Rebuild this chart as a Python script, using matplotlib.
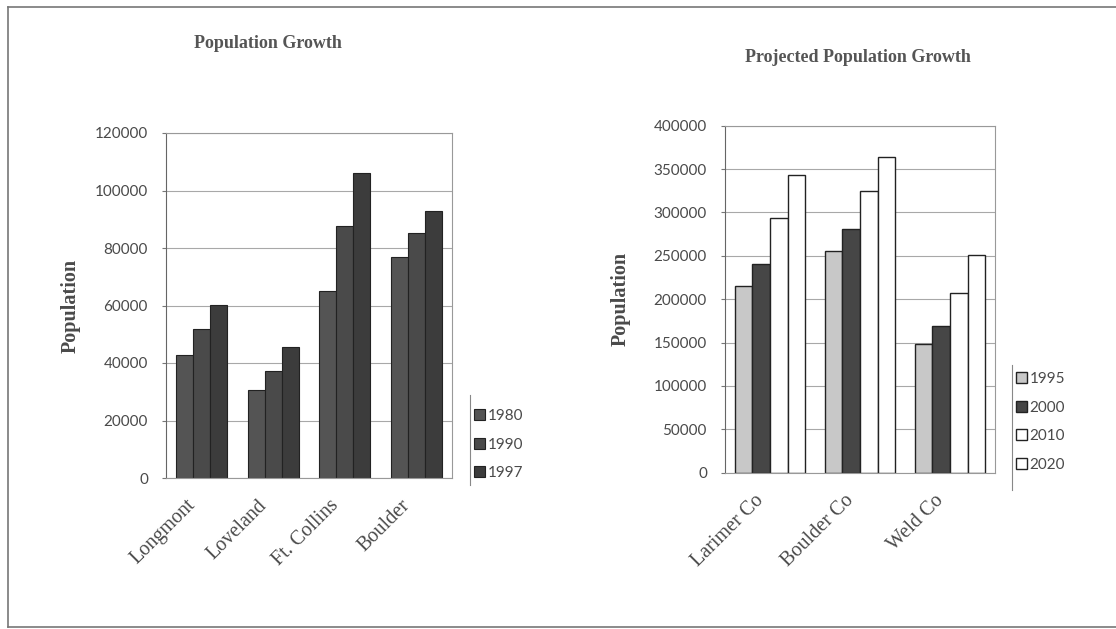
import numpy as np
import matplotlib
matplotlib.use("Agg")
import matplotlib.pyplot as plt
import matplotlib.transforms as mtransforms
from matplotlib.lines import Line2D

# city populations
cities = ["Longmont", "Loveland", "Ft. Collins", "Boulder"]
city_years = ["1980", "1990", "1997"]
pop_1980 = [42800, 30500, 64900, 77000]
pop_1990 = [51800, 37300, 87800, 85100]
pop_1997 = [60200, 45700, 106200, 92900]

# county projections
counties = ["Larimer Co", "Boulder Co", "Weld Co"]
county_years = ["1995", "2000", "2010", "2020"]
proj_1995 = [215600, 255200, 148000]
proj_2000 = [240900, 280900, 168800]
proj_2010 = [294000, 324700, 207500]
proj_2020 = [343200, 363600, 251300]

serif = "Liberation Serif"
sans = "Lato"
txt = "#4a4a4a"

W, H = 1116, 629
fig = plt.figure(figsize=(W / 100, H / 100), dpi=100)


def fx(px):
    return px / W


def fy(py):
    return 1 - py / H


# outer frame: left, top and bottom edges
for xs, ys in [([8, 8], [7, 627]), ([8, W], [7, 7]), ([8, W], [627, 627])]:
    fig.add_artist(Line2D([fx(v) for v in xs], [fy(v) for v in ys],
                          color="#777777", lw=1.2))


def style_axes(ax, ymax, step):
    ax.set_ylim(0, ymax)
    ax.set_yticks(np.arange(0, ymax + 1, step))
    ax.yaxis.grid(True, color="#a8a8a8", lw=0.8)
    ax.set_axisbelow(True)
    for s in ax.spines.values():
        s.set_color("#999999")
        s.set_linewidth(0.8)
    ax.spines["left"].set_color("#666666")
    ax.tick_params(axis="y", length=3, color="#777777", labelsize=11,
                   labelcolor=txt, pad=10)
    for lab in ax.get_yticklabels():
        lab.set_fontfamily(sans)
    ax.set_ylabel("Population", fontfamily=serif, fontweight="bold",
                  fontsize=14.5, color=txt)


def rotated_labels(ax, labels):
    ax.set_xticklabels(labels, rotation=45, ha="right", va="top",
                       rotation_mode="anchor", fontfamily=serif, fontsize=14.5,
                       color=txt)
    ax.tick_params(axis="x", length=0, pad=13)
    shift = mtransforms.ScaledTranslation(-16 / 100, 0, fig.dpi_scale_trans)
    for lab in ax.get_xticklabels():
        lab.set_transform(lab.get_transform() + shift)


# ---- left chart ----
ax1 = fig.add_axes([fx(166), fy(478), 286 / W, 345 / H])
x = np.arange(len(cities))
w = 0.24
colors1 = ["#545454", "#4a4a4a", "#3c3c3c"]
bars1 = []
for i, vals in enumerate([pop_1980, pop_1990, pop_1997]):
    b = ax1.bar(x + (i - 1) * w, vals, w, color=colors1[i],
                edgecolor="#222222", lw=0.8, label=city_years[i])
    bars1.append(b)
ax1.set_xlim(-0.5, len(cities) - 0.5)
style_axes(ax1, 120000, 20000)
ax1.set_xticks(x)
rotated_labels(ax1, cities)
ax1.yaxis.set_label_coords(-0.30, 0.5)

fig.text(fx(268), fy(43), "Population Growth", ha="center",
         va="center", fontfamily=serif, fontweight="bold", fontsize=13,
         color="#555555")

# ---- right chart ----
ax2 = fig.add_axes([fx(725), fy(472.7), 270 / W, 347 / H])
x2 = np.arange(len(counties))
w2 = 0.195
colors2 = ["#c8c8c8", "#464646", "white", "white"]
bars2 = []
for i, vals in enumerate([proj_1995, proj_2000, proj_2010, proj_2020]):
    b = ax2.bar(x2 + (i - 1.5) * w2, vals, w2, color=colors2[i],
                edgecolor="#222222", lw=1.0, label=county_years[i])
    bars2.append(b)
ax2.set_xlim(-0.5, len(counties) - 0.5)
style_axes(ax2, 400000, 50000)
ax2.set_xticks(x2)
rotated_labels(ax2, counties)
ax2.yaxis.set_label_coords(-0.35, 0.5)

fig.text(fx(858), fy(57), "Projected Population Growth",
         ha="center", va="center", fontfamily=serif, fontweight="bold",
         fontsize=13, color="#555555")

# ---- legends ----
leg_kw = dict(loc="upper left", frameon=False, handlelength=0.7,
              handleheight=0.7, handletextpad=0.2, labelspacing=0.95,
              borderpad=0, borderaxespad=0, prop={"family": sans, "size": 11})
leg1 = fig.legend(handles=bars1, bbox_to_anchor=(fx(474), fy(409)), **leg_kw)
leg2 = fig.legend(handles=bars2, bbox_to_anchor=(fx(1016), fy(372)), **leg_kw)
for leg in (leg1, leg2):
    for t in leg.get_texts():
        t.set_color(txt)

fig.add_artist(Line2D([fx(470), fx(470)], [fy(485), fy(395)],
                      color="#888888", lw=0.8))
fig.add_artist(Line2D([fx(1012), fx(1012)], [fy(490), fy(365)],
                      color="#888888", lw=0.8))

fig.savefig("out.png", dpi=100)
